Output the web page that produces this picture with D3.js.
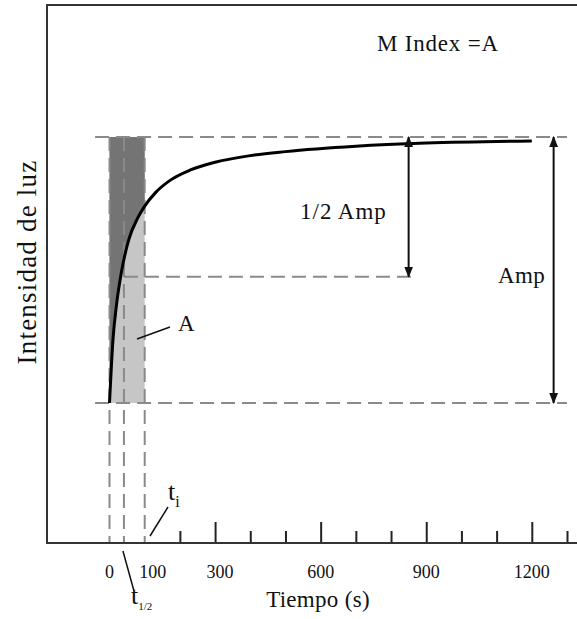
<!DOCTYPE html>
<html>
<head>
<meta charset="utf-8">
<script src="https://cdn.jsdelivr.net/npm/d3@7"></script>
<style>
  body { margin: 0; background: #fff; }
  svg text { font-family: "Liberation Serif", "Times New Roman", Tinos, "DejaVu Serif", serif; fill: #111; }
</style>
</head>
<body>
<div id="chart"></div>
<script>
// curve: time (s) vs relative light intensity
const times = [0, 10, 20, 35, 55, 80, 100, 130, 170, 230, 300, 400, 500, 700, 900, 1200];
const intensity = [0, 0.24, 0.37, 0.50, 0.615, 0.695, 0.74, 0.79, 0.835, 0.876, 0.905, 0.93, 0.945, 0.965, 0.977, 0.985];

const tHalf = 41;
const tI = 100;
const halfLevel = 0.475;
const majorTicks = [300, 600, 900, 1200];
const minorTicks = [200, 400, 500, 700, 800, 1000, 1100, 1300];
const tickLabels = [0, 100, 300, 600, 900, 1200];
const halfAmpAt = 850;
const ampAt = 1262;

const width = 577;
const height = 619;
const axisY = 543;
const frameLeft = 47;
const frameTop = 5;

const x = d3.scaleLinear().domain([0, 1300]).range([109.5, 567]);
const y = d3.scaleLinear().domain([0, 1]).range([403, 137]);

const data = times.map((t, i) => ({ t, v: intensity[i] }));

const svg = d3.select("#chart").append("svg")
  .attr("width", width)
  .attr("height", height);

const defs = svg.append("defs");
defs.append("marker")
  .attr("id", "head")
  .attr("viewBox", "0 0 10 10")
  .attr("refX", 9).attr("refY", 5)
  .attr("markerWidth", 11).attr("markerHeight", 11)
  .attr("markerUnits", "userSpaceOnUse")
  .attr("orient", "auto-start-reverse")
  .append("path")
  .attr("d", "M0,1 L10,5 L0,9 Z")
  .attr("fill", "#111");

// frame
svg.append("path")
  .attr("d", `M${frameLeft},${axisY} V${frameTop} H${width}`)
  .attr("fill", "none")
  .attr("stroke", "#333")
  .attr("stroke-width", 2);

// shaded area between 0 and t_i
svg.append("rect")
  .attr("x", x(0)).attr("y", y(1))
  .attr("width", x(tI) - x(0))
  .attr("height", y(0) - y(1))
  .attr("fill", "#c6c6c6");

const early = data.filter(d => d.t <= tI);
svg.append("path")
  .datum(early)
  .attr("fill", "#747474")
  .attr("d", d3.area()
    .curve(d3.curveMonotoneX)
    .x(d => x(d.t))
    .y0(y(1))
    .y1(d => y(d.v)));

// dashed guides
const dash = g => g.attr("stroke", "#8a8a8a").attr("stroke-width", 2).attr("stroke-dasharray", "14,7").attr("fill", "none");

svg.append("line")
  .attr("x1", x(-41)).attr("x2", x(1300))
  .attr("y1", y(1)).attr("y2", y(1)).call(dash);
svg.append("line")
  .attr("x1", x(-41)).attr("x2", x(1300))
  .attr("y1", y(0)).attr("y2", y(0)).call(dash);
svg.append("line")
  .attr("x1", x(tHalf)).attr("x2", x(870))
  .attr("y1", y(halfLevel)).attr("y2", y(halfLevel)).call(dash);

svg.selectAll(".vguide")
  .data([0, tHalf, tI])
  .join("line")
  .attr("class", "vguide")
  .attr("x1", d => x(d)).attr("x2", d => x(d))
  .attr("y1", y(1)).attr("y2", axisY)
  .call(dash);

// the curve
svg.append("path")
  .datum(data)
  .attr("fill", "none")
  .attr("stroke", "#000")
  .attr("stroke-width", 3)
  .attr("d", d3.line()
    .curve(d3.curveMonotoneX)
    .x(d => x(d.t))
    .y(d => y(d.v)));

// arrows
svg.append("line")
  .attr("x1", x(halfAmpAt)).attr("x2", x(halfAmpAt))
  .attr("y1", y(1)).attr("y2", y(halfLevel))
  .attr("stroke", "#111").attr("stroke-width", 2)
  .attr("marker-start", "url(#head)").attr("marker-end", "url(#head)");
svg.append("line")
  .attr("x1", x(ampAt)).attr("x2", x(ampAt))
  .attr("y1", y(1)).attr("y2", y(0))
  .attr("stroke", "#111").attr("stroke-width", 2)
  .attr("marker-start", "url(#head)").attr("marker-end", "url(#head)");

// x axis: minor and major ticks drawn upwards
const axisMinor = d3.axisBottom(x).tickValues(minorTicks).tickSizeInner(-12).tickSizeOuter(0).tickFormat("");
const axisMajor = d3.axisBottom(x).tickValues(majorTicks).tickSizeInner(-21).tickSizeOuter(0).tickFormat("");

const gMinor = svg.append("g").attr("transform", `translate(0,${axisY})`).call(axisMinor);
const gMajor = svg.append("g").attr("transform", `translate(0,${axisY})`).call(axisMajor);
[gMinor, gMajor].forEach(g => {
  g.select(".domain").remove();
  g.selectAll(".tick line").attr("stroke", "#222").attr("stroke-width", 2);
});

svg.append("line")
  .attr("x1", frameLeft - 1).attr("x2", width)
  .attr("y1", axisY).attr("y2", axisY)
  .attr("stroke", "#333").attr("stroke-width", 2);

svg.selectAll(".tlabel")
  .data(tickLabels)
  .join("text")
  .attr("class", "tlabel")
  .attr("x", d => x(d) + (d === 100 ? 8 : d === 300 ? 5 : 0))
  .attr("y", 578)
  .attr("text-anchor", "middle")
  .attr("font-size", 18)
  .text(d => d);

// titles
svg.append("text")
  .attr("x", 318).attr("y", 607)
  .attr("text-anchor", "middle")
  .attr("font-size", 23)
  .attr("letter-spacing", 0.3)
  .text("Tiempo (s)");

svg.append("text")
  .attr("transform", "translate(36,262) rotate(-90)")
  .attr("text-anchor", "middle")
  .attr("font-size", 27)
  .attr("letter-spacing", 1.2)
  .text("Intensidad de luz");

svg.append("text")
  .attr("x", 377).attr("y", 51)
  .attr("font-size", 23)
  .attr("letter-spacing", 0.8)
  .text("M Index =A");

svg.append("text")
  .attr("x", 300).attr("y", 219)
  .attr("font-size", 23)
  .attr("letter-spacing", 1)
  .text("1/2 Amp");

svg.append("text")
  .attr("x", 498).attr("y", 283)
  .attr("font-size", 23)
  .attr("letter-spacing", 0.4)
  .text("Amp");

svg.append("text")
  .attr("x", 178).attr("y", 331)
  .attr("font-size", 23)
  .text("A");

// leaders
const leader = g => g.attr("stroke", "#111").attr("stroke-width", 1.5);
svg.append("line").attr("x1", 137).attr("y1", 339).attr("x2", 170).attr("y2", 327).call(leader);
svg.append("line").attr("x1", 150).attr("y1", 536).attr("x2", 168).attr("y2", 507).call(leader);
svg.append("line").attr("x1", x(tHalf) - 1).attr("y1", 551).attr("x2", 134).attr("y2", 591).call(leader);

// t_i label
const ti = svg.append("text").attr("x", 168).attr("y", 500).attr("font-size", 26);
ti.append("tspan").text("t");
ti.append("tspan").attr("font-size", 16).attr("dy", 7).text("i");

// t_1/2 label
const th = svg.append("text").attr("x", 131).attr("y", 604).attr("font-size", 26);
th.append("tspan").text("t");
th.append("tspan").attr("font-size", 11).attr("dy", 6).text("1/2");
</script>
</body>
</html>
